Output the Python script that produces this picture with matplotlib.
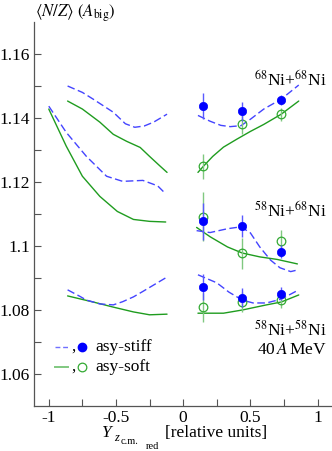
import matplotlib
matplotlib.use("Agg")
import matplotlib.pyplot as plt

plt.rcParams["font.family"] = "serif"
plt.rcParams["font.serif"] = ["Liberation Serif", "DejaVu Serif"]
plt.rcParams["mathtext.fontset"] = "stix"
plt.rcParams["axes.unicode_minus"] = False

# simulation curves (left = projectile-like side, right = target-like side)
# 68Ni+68Ni
x_6868_stiff_l = [-0.86, -0.75, -0.67, -0.52, -0.43, -0.36, -0.29, -0.22, -0.12]
y_6868_stiff_l = [1.1500, 1.1480, 1.1459, 1.1418, 1.1382, 1.1371, 1.1375, 1.1387, 1.1412]
x_6868_soft_l = [-0.86, -0.75, -0.62, -0.52, -0.42, -0.32, -0.25, -0.17, -0.12]
y_6868_soft_l = [1.1453, 1.1428, 1.1387, 1.1349, 1.1327, 1.1308, 1.1280, 1.1249, 1.1230]
x_6868_stiff_r = [0.11, 0.20, 0.28, 0.35, 0.43, 0.50, 0.60, 0.73, 0.86]
y_6868_stiff_r = [1.1408, 1.1390, 1.1377, 1.1373, 1.1376, 1.1396, 1.1428, 1.1459, 1.1503]
x_6868_soft_r = [0.11, 0.15, 0.22, 0.30, 0.40, 0.50, 0.60, 0.73, 0.86]
y_6868_soft_r = [1.1230, 1.1249, 1.1280, 1.1309, 1.1334, 1.1358, 1.1380, 1.1412, 1.1453]

# 58Ni+68Ni
x_5868_stiff_l = [-1.0, -0.87, -0.72, -0.57, -0.45, -0.30, -0.19, -0.13]
y_5868_stiff_l = [1.1437, 1.1355, 1.1280, 1.1218, 1.1202, 1.1205, 1.1188, 1.1163]
x_5868_soft_l = [-1.0, -0.87, -0.75, -0.62, -0.49, -0.37, -0.25, -0.13]
y_5868_soft_l = [1.1428, 1.1312, 1.1218, 1.1155, 1.1108, 1.1083, 1.1077, 1.1075]
x_5868_stiff_r = [0.10, 0.20, 0.33, 0.43, 0.50, 0.57, 0.65, 0.72, 0.80, 0.85]
y_5868_stiff_r = [1.1048, 1.1042, 1.1054, 1.1060, 1.1041, 1.0997, 1.0956, 1.0932, 1.0920, 1.0925]
x_5868_soft_r = [0.10, 0.20, 0.33, 0.44, 0.57, 0.70, 0.85]
y_5868_soft_r = [1.1058, 1.1029, 1.0997, 1.0978, 1.0966, 1.0958, 1.0944]

# 58Ni+58Ni
x_5858_stiff_l = [-0.86, -0.77, -0.72, -0.62, -0.52, -0.45, -0.37, -0.30, -0.22, -0.12]
y_5858_stiff_l = [1.0863, 1.0843, 1.0831, 1.0819, 1.0816, 1.0826, 1.0841, 1.0858, 1.0878, 1.0903]
x_5858_soft_l = [-0.86, -0.67, -0.52, -0.37, -0.25, -0.12]
y_5858_soft_l = [1.0844, 1.0825, 1.0809, 1.0794, 1.0785, 1.0787]
x_5858_stiff_r = [0.11, 0.25, 0.34, 0.44, 0.52, 0.62, 0.73, 0.86]
y_5858_stiff_r = [1.0910, 1.0885, 1.0856, 1.0831, 1.0822, 1.0822, 1.0834, 1.0863]
x_5858_soft_r = [0.11, 0.30, 0.44, 0.62, 0.73, 0.86]
y_5858_soft_r = [1.0790, 1.0790, 1.0800, 1.0816, 1.0825, 1.0847]

# experimental points
x_pts = [0.15, 0.44, 0.73]
stiff_6868 = [1.1437, 1.1421, 1.1456]
stiff_6868_err = [0.0040, 0.0030, 0.0015]
soft_6868 = [1.1249, 1.1380, 1.1412]
soft_6868_err = [0.0040, 0.0030, 0.0020]
stiff_5868 = [1.1077, 1.1062, 1.0982]
stiff_5868_err = [0.0057, 0.0035, 0.0020]
soft_5868 = [1.1092, 1.0977, 1.1016]
soft_5868_err = [0.0077, 0.0048, 0.0033]
stiff_5858 = [1.0872, 1.0838, 1.0851]
stiff_5858_err = [0.0040, 0.0030, 0.0020]
soft_5858 = [1.0809, 1.0825, 1.0831]
soft_5858_err = [0.0045, 0.0030, 0.0025]

reaction_labels = [r"$^{68}$Ni+$^{68}$Ni", r"$^{58}$Ni+$^{68}$Ni", r"$^{58}$Ni+$^{58}$Ni", r"40$\,A\,$MeV"]
reaction_label_y = [1.1519, 1.1109, 1.0737, 1.0675]

BLUE_LINE = "#4444ff"
BLUE = "#0000ff"
BLUE_ERR = "#5a5aff"
GREEN_LINE = "#1f9c1f"
GREEN = "#33aa33"
GREEN_ERR = "#80c880"
AXIS = "#555555"

W, H = 332, 451
fig = plt.figure(figsize=(W / 100, H / 100), dpi=100)
ax = fig.add_axes([34 / W, 45 / H, 297 / W, 384 / H])

stiff_curves = [(x_6868_stiff_l, y_6868_stiff_l), (x_6868_stiff_r, y_6868_stiff_r),
                (x_5868_stiff_l, y_5868_stiff_l), (x_5868_stiff_r, y_5868_stiff_r),
                (x_5858_stiff_l, y_5858_stiff_l), (x_5858_stiff_r, y_5858_stiff_r)]
soft_curves = [(x_6868_soft_l, y_6868_soft_l), (x_6868_soft_r, y_6868_soft_r),
               (x_5868_soft_l, y_5868_soft_l), (x_5868_soft_r, y_5868_soft_r),
               (x_5858_soft_l, y_5858_soft_l), (x_5858_soft_r, y_5858_soft_r)]
for xs, ys in soft_curves:
    ax.plot(xs, ys, color=GREEN_LINE, lw=1.0, solid_capstyle="round")
for xs, ys in stiff_curves:
    ax.plot(xs, ys, color=BLUE_LINE, lw=1.0, dashes=(5.5, 2.5))

for ys, es in [(soft_6868, soft_6868_err), (soft_5868, soft_5868_err), (soft_5858, soft_5858_err)]:
    ax.errorbar(x_pts, ys, yerr=es, fmt="o", ms=6.2, mfc="none", mec=GREEN, mew=0.9,
                ecolor=GREEN_ERR, elinewidth=1.0, capsize=0, zorder=4)
for ys, es in [(stiff_6868, stiff_6868_err), (stiff_5868, stiff_5868_err), (stiff_5858, stiff_5858_err)]:
    ax.errorbar(x_pts, ys, yerr=es, fmt="o", ms=6.0, mfc=BLUE, mec=BLUE, mew=0.5,
                ecolor=BLUE_ERR, elinewidth=1.0, capsize=0, zorder=5)

# axes styling
ax.set_xlim(-1.11, 1.10)
ax.set_ylim(1.05, 1.17)
ax.set_xticks([-1, -0.5, 0, 0.5, 1])
ax.set_xticklabels(["-1", "-0.5", "0", "0.5", "1"])
ax.set_xticks([-0.75, -0.25, 0.25, 0.75], minor=True)
ax.set_yticks([1.06, 1.08, 1.10, 1.12, 1.14, 1.16])
ax.set_yticklabels(["1.06", "1.08", "1.1", "1.12", "1.14", "1.16"])
ax.set_yticks([1.07, 1.09, 1.11, 1.13, 1.15], minor=True)
for s in ("top", "right"):
    ax.spines[s].set_visible(False)
for s in ("left", "bottom"):
    ax.spines[s].set_color(AXIS)
    ax.spines[s].set_linewidth(0.9)
ax.tick_params(which="both", direction="in", length=5, width=0.8, color=AXIS,
               labelsize=12.5, pad=3)
ax.patch.set_alpha(0)

# y label on top
fig.text(35 / W, 1 - 13 / H, r"$\langle N/Z\rangle$ $(A_{\mathrm{big}})$",
         ha="left", va="center", fontsize=12)

# x label, built from pieces so the nested subscripts keep a readable size
def px_text(x, y, s, **kw):
    fig.text(x / W, 1 - y / H, s, ha="left", va="baseline", **kw)

px_text(102, 437, "Y", fontsize=12.5, style="italic")
px_text(114, 441, "z", fontsize=9, style="italic")
px_text(121, 444, "c.m.", fontsize=7.5)
px_text(146, 449, "red", fontsize=7.5)
px_text(165, 437, "[relative units]", fontsize=12.5)

for lab, yv in zip(reaction_labels, reaction_label_y):
    ax.text(0.987, (yv - 1.05) / 0.12, lab, transform=ax.transAxes,
            ha="right", va="center", fontsize=12.5)

# hand-made legend
ly1, ly2 = (406 - 347) / 384, (406 - 367) / 384
ax.plot([0.071, 0.121], [ly1, ly1], transform=ax.transAxes, color="#7070ff", lw=1.0,
        dashes=(3.5, 2.0))
ax.plot([0.071, 0.116], [ly2, ly2], transform=ax.transAxes, color=GREEN_ERR, lw=1.4)
ax.text(0.127, ly1, ",", transform=ax.transAxes, ha="left", va="center", fontsize=12)
ax.text(0.127, ly2, ",", transform=ax.transAxes, ha="left", va="center", fontsize=12)
ax.plot([0.163], [ly1], "o", transform=ax.transAxes, ms=6, color=BLUE)
ax.plot([0.163], [ly2], "o", transform=ax.transAxes, ms=6.2, mfc="none", mec=GREEN, mew=0.9)
ax.text(0.207, ly1, "asy-stiff", transform=ax.transAxes, ha="left", va="center", fontsize=12.5)
ax.text(0.207, ly2, "asy-soft", transform=ax.transAxes, ha="left", va="center", fontsize=12.5)

fig.savefig("out.png", dpi=100, facecolor="white")
